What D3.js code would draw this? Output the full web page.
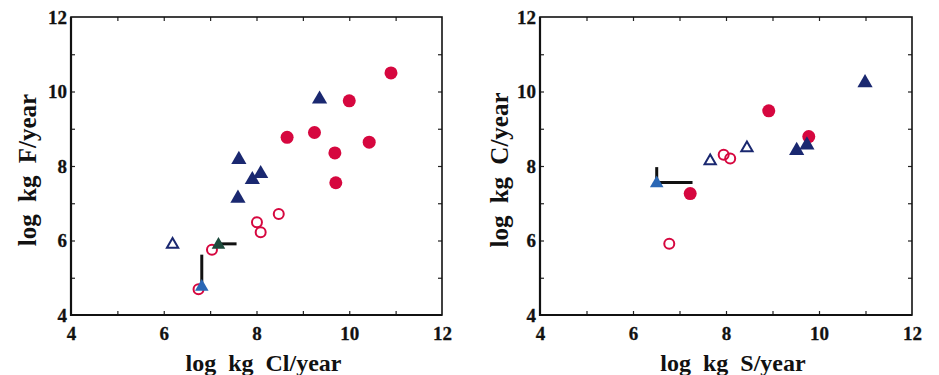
<!DOCTYPE html>
<html>
<head>
<meta charset="utf-8">
<script src="https://cdn.jsdelivr.net/npm/d3@7"></script>
<style>
  body { margin: 0; background: #fff; }
  svg { display: block; }
  text { font-family: "Liberation Serif", "DejaVu Serif", serif; font-weight: bold; }
</style>
</head>
<body>
<svg id="chart" width="939" height="375"></svg>
<script>
// ---- data ----
const tickLabels = [4, 6, 8, 10, 12];
const minorTicks = [5, 6, 7, 8, 9, 10, 11];

// left panel: F vs Cl
const leftFilledCircles = [[10.9, 10.5], [10.0, 9.75], [9.25, 8.9], [8.66, 8.77], [10.43, 8.64], [9.69, 8.35], [9.71, 7.55]];
const leftOpenCircles = [[8.48, 6.71], [8.01, 6.49], [8.09, 6.22], [7.04, 5.75], [6.75, 4.69]];
const leftFilledTriangles = [[9.36, 9.82], [7.62, 8.2], [7.91, 7.66], [8.09, 7.82], [7.6, 7.16]];
const leftOpenTriangles = [[6.19, 5.92]];
// range markers: [x, y, xEnd, yEnd]
const leftGreenRange = [[7.18, 5.91, 7.57, 5.91]];
const leftBlueRange = [[6.82, 4.78, 6.82, 5.62]];

// right panel: C vs S
const rightFilledCircles = [[8.92, 9.48], [9.78, 8.79], [7.23, 7.26]];
const rightOpenCircles = [[7.95, 8.3], [8.09, 8.2], [6.78, 5.91]];
const rightFilledTriangles = [[10.99, 10.26], [9.52, 8.44], [9.74, 8.59]];
const rightOpenTriangles = [[7.66, 8.16], [8.45, 8.51]];
const rightGreenRange = [];
const rightBlueRange = [[6.51, 7.56, 6.51, 7.97], [6.51, 7.56, 7.28, 7.56]];

const RED = '#d6073f';
const NAVY = '#1a2870';
const LIGHT_BLUE = '#2a67b5';
const GREEN = '#1d4a3c';

const svg = d3.select('#chart');
const triangle = d3.symbol().type(d3.symbolTriangle);

function drawPanel(opts) {
    const { left, right, top, bottom, xLabel, yLabel, yLabelX } = opts;
    const x = d3.scaleLinear().domain([4, 12]).range([left, right]);
    const y = d3.scaleLinear().domain([4, 12]).range([bottom, top]);
    const g = svg.append('g');

    // inward minor ticks on all four sides
    const tickSides = [
        { axis: d3.axisBottom(x), t: `translate(0,${bottom})` },
        { axis: d3.axisTop(x), t: `translate(0,${top})` },
        { axis: d3.axisLeft(y), t: `translate(${left},0)` },
        { axis: d3.axisRight(y), t: `translate(${right},0)` }
    ];
    tickSides.forEach(s => {
        const a = g.append('g')
            .attr('transform', s.t)
            .call(s.axis.tickValues(minorTicks).tickSize(-4).tickFormat(''));
        a.select('.domain').remove();
        a.selectAll('line').attr('stroke', '#222').attr('stroke-width', 1.2);
    });

    // tick labels
    const xa = g.append('g')
        .attr('transform', `translate(0,${bottom})`)
        .call(d3.axisBottom(x).tickValues(tickLabels).tickSize(0).tickPadding(12));
    const ya = g.append('g')
        .attr('transform', `translate(${left},0)`)
        .call(d3.axisLeft(y).tickValues(tickLabels).tickSize(0).tickPadding(4));
    [xa, ya].forEach(a => {
        a.select('.domain').remove();
        a.attr('font-size', null).attr('font-family', null);
        a.selectAll('text')
            .style('font-family', '"Liberation Serif", serif')
            .style('font-weight', 'bold')
            .style('font-size', '19px')
            .style('fill', '#111')
            .style('stroke', '#111')
            .style('stroke-width', '0.3px');
    });

    // frame
    g.append('rect')
        .attr('x', left).attr('y', top)
        .attr('width', right - left).attr('height', bottom - top)
        .attr('fill', 'none').attr('stroke', '#111').attr('stroke-width', 1.6);
    g.append('path')
        .attr('d', `M${left},${top}V${bottom}H${right}`)
        .attr('fill', 'none').attr('stroke', '#111').attr('stroke-width', 2.2);

    // range bars
    const bars = opts.greenRange.concat(opts.blueRange);
    g.selectAll('line.range').data(bars).enter().append('line')
        .attr('class', 'range')
        .attr('x1', d => x(d[0])).attr('y1', d => y(d[1]))
        .attr('x2', d => x(d[2])).attr('y2', d => y(d[3]))
        .attr('stroke', '#111').attr('stroke-width', 3);

    // open circles
    g.selectAll('circle.open').data(opts.openCircles).enter().append('circle')
        .attr('class', 'open')
        .attr('cx', d => x(d[0])).attr('cy', d => y(d[1]))
        .attr('r', 5).attr('fill', 'none').attr('stroke', RED).attr('stroke-width', 2);

    // filled circles
    g.selectAll('circle.filled').data(opts.filledCircles).enter().append('circle')
        .attr('class', 'filled')
        .attr('cx', d => x(d[0])).attr('cy', d => y(d[1]))
        .attr('r', 6.5).attr('fill', RED);

    // open triangles
    g.selectAll('path.otri').data(opts.openTriangles).enter().append('path')
        .attr('d', triangle.size(55))
        .attr('transform', d => `translate(${x(d[0])},${y(d[1]) + 1})`)
        .attr('fill', 'none').attr('stroke', NAVY).attr('stroke-width', 2);

    // filled triangles
    g.selectAll('path.ftri').data(opts.filledTriangles).enter().append('path')
        .attr('d', triangle.size(100))
        .attr('transform', d => `translate(${x(d[0])},${y(d[1]) + 1})`)
        .attr('fill', NAVY);

    // range marker triangles
    g.selectAll('path.gtri').data(opts.greenRange.slice(0, 1)).enter().append('path')
        .attr('d', triangle.size(80))
        .attr('transform', d => `translate(${x(d[0])},${y(d[1]) + 1})`)
        .attr('fill', GREEN);
    g.selectAll('path.btri').data(opts.blueRange.slice(0, 1)).enter().append('path')
        .attr('d', triangle.size(80))
        .attr('transform', d => `translate(${x(d[0])},${y(d[1]) + 1})`)
        .attr('fill', LIGHT_BLUE);

    // axis labels
    g.append('text')
        .attr('x', (left + right) / 2 + 7)
        .attr('y', 371)
        .attr('text-anchor', 'middle')
        .attr('font-size', 24)
        .attr('fill', '#111')
        .attr('word-spacing', 6)
        .text(xLabel);
    g.append('text')
        .attr('transform', `translate(${yLabelX},170) rotate(-90)`)
        .attr('text-anchor', 'middle')
        .attr('font-size', 25)
        .attr('fill', '#111')
        .attr('word-spacing', 6)
        .text(yLabel);
}

drawPanel({
    left: 71, right: 442, top: 17, bottom: 315,
    xLabel: 'log kg Cl/year', yLabel: 'log kg F/year', yLabelX: 36,
    filledCircles: leftFilledCircles, openCircles: leftOpenCircles,
    filledTriangles: leftFilledTriangles, openTriangles: leftOpenTriangles,
    greenRange: leftGreenRange, blueRange: leftBlueRange
});

drawPanel({
    left: 540, right: 912, top: 17, bottom: 315,
    xLabel: 'log kg S/year', yLabel: 'log kg C/year', yLabelX: 508,
    filledCircles: rightFilledCircles, openCircles: rightOpenCircles,
    filledTriangles: rightFilledTriangles, openTriangles: rightOpenTriangles,
    greenRange: rightGreenRange, blueRange: rightBlueRange
});
</script>
</body>
</html>
